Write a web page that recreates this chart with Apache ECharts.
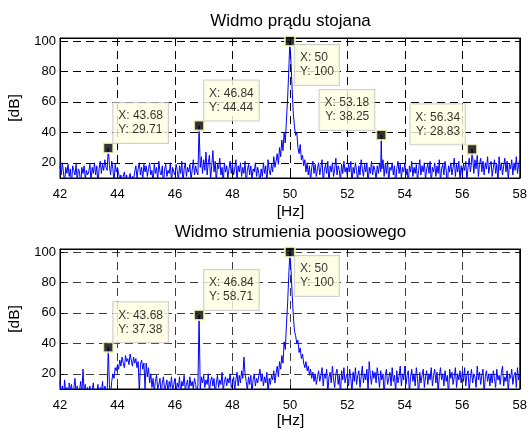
<!DOCTYPE html>
<html>
<head>
<meta charset="utf-8">
<script src="https://cdn.jsdelivr.net/npm/echarts@6/dist/echarts.min.js"></script>
<style>
  html, body { margin: 0; padding: 0; background: #fff; }
  #chart { width: 530px; height: 431px; }
</style>
</head>
<body>
<div id="chart"></div>
<script>
// Frequency grid of the spectra: 42 Hz .. 58 Hz, 0.04 Hz bins
const freqStart = 42;
const freqStep = 0.04;

// Stator current spectrum [dB], one row per 1 Hz (25 bins), last bin = 58 Hz
const statorSpectrum = [
  18,12,20,14,6,17,13,19,11,16,5,18,15,12,19,8,16,14,4,17,13,18,9,15,12,
  14,19,8,17,13,20,12,18,5,16,21,13,19,15,22,17,15,29.71,18,12,21,16,7,19,14,
  17,13,9,12,6,11,14,8,12,5,10,13,7,11,9,14,18,10,16,20,12,17,9,19,14,
  18,11,16,20,12,15,6,19,13,17,8,21,14,12,18,5,16,19,11,15,13,20,7,17,14,
  12,19,15,8,18,13,21,6,16,20,11,17,14,19,9,15,22,12,18,14,12,44.44,17,24,13,
  22,15,27,12,20,25,9,18,28,14,21,7,19,16,23,12,17,6,20,14,18,10,16,21,13,
  19,12,16,22,8,18,14,20,11,17,13,21,6,15,19,12,18,9,16,14,20,11,17,13,7,
  16,11,20,13,18,6,22,15,12,19,14,24,17,21,26,19,30,24,35,28,40,33,48,62,80,
  100,85,68,52,44,38,40,30,26,32,22,25,18,22,14,20,12,18,8,17,21,13,19,11,16,
  20,12,17,22,7,15,19,13,21,6,18,14,20,11,16,23,12,18,15,8,19,13,21,14,17,
  11,19,14,21,6,17,13,20,15,8,18,12,22,16,11,19,14,20,5,17,13,21,12,18,15,
  9,18,13,20,14,16,22,11,19,13,21,7,17,15,20,12,18,5,16,21,13,19,10,17,14,
  20,12,16,6,18,14,21,11,17,13,19,8,15,22,12,18,14,20,9,16,19,13,21,7,17,
  14,20,11,18,13,22,7,16,19,12,21,15,5,18,14,20,12,17,23,11,19,14,21,9,18,
  12,19,15,21,8,17,23,14,20,24,13,22,16,25,11,19,23,14,21,12,20,16,24,13,18,
  21,11,17,22,13,19,7,24,15,20,12,18,23,14,21,9,19,16,22,12,20,15,24,13,19,
  22
];

// Axial flux spectrum [dB], same grid
const fluxSpectrum = [
  15,6,12,3,16,8,11,4,14,9,13,5,10,17,7,12,4,9,15,6,23,8,13,5,11,
  6,12,4,9,14,3,10,7,13,5,11,8,15,4,12,9,6,37.38,12,6,15,20,17,24,22,
  26,23,29,25,31,27,24,32,28,30,26,33,29,25,31,27,30,24,28,8,26,29,23,27,10,
  27,18,24,14,20,11,17,8,15,19,10,13,17,6,14,18,9,12,16,7,15,11,18,9,13,
  17,8,14,11,18,6,15,12,19,9,13,16,7,18,12,15,10,17,13,8,12,58.71,10,18,14,
  19,11,16,13,20,7,15,18,12,17,6,14,19,11,16,13,21,8,15,18,12,17,14,20,11,
  13,18,9,16,21,12,19,14,22,17,31,20,15,9,18,13,19,7,16,20,12,17,14,19,23,
  15,20,12,18,14,21,7,17,13,19,16,22,14,20,25,18,28,23,32,27,41,36,52,66,84,
  100,88,72,58,48,45,40,42,34,37,30,33,27,24,28,22,25,19,23,17,21,15,20,13,18,
  22,15,19,24,12,20,17,23,7,18,21,14,25,16,11,20,23,13,19,6,22,16,24,14,18,
  20,12,23,17,8,21,15,24,13,19,22,11,18,25,14,20,16,23,9,28,19,13,22,17,21,
  14,24,18,11,22,16,20,6,19,23,13,17,21,12,24,15,19,8,22,14,18,25,12,20,16,
  25,13,19,22,7,18,23,15,20,12,24,17,6,21,14,19,23,11,18,22,13,20,16,24,12,
  19,23,14,21,8,18,24,16,20,12,22,15,19,5,23,17,21,13,18,24,11,20,16,22,14,
  21,15,24,12,19,22,9,17,23,14,20,18,11,25,16,21,13,19,23,6,18,22,15,20,12,
  20,14,22,17,11,23,16,19,13,21,25,12,18,15,22,8,20,17,23,13,19,21,11,24,16,
  20
];

// Marked spectral lines (data tips)
const statorTipFreq = [43.68, 46.84, 50, 53.18, 56.34];
const statorTipVal  = [29.71, 44.44, 100, 38.25, 28.83];
const statorTipSide = ['ur', 'ur', 'dr', 'ul', 'ul'];

const fluxTipFreq = [43.68, 46.84, 50];
const fluxTipVal  = [37.38, 58.71, 100];
const fluxTipSide = ['ur', 'ur', 'dr'];

// Axis ticks
const xTicks = [42, 44, 46, 48, 50, 52, 54, 56, 58];
const yTicks = [20, 40, 60, 80, 100];

const FONT = '"Liberation Sans", Arial, Helvetica, sans-serif';

// Build [freq, dB] pairs; tip lines override or are inserted between bins
function buildSpectrum(values, tipF, tipV) {
  const pts = values.map((v, i) => [+(freqStart + i * freqStep).toFixed(2), v]);
  tipF.forEach((f, k) => {
    const j = pts.findIndex(p => Math.abs(p[0] - f) < 1e-6);
    if (j >= 0) pts[j][1] = tipV[k];
    else pts.push([f, tipV[k]]);
  });
  pts.sort((a, b) => a[0] - b[0]);
  return pts;
}

// Label box anchors, relative to the marker's bounding box (10 x 10)
const tipPlacement = {
  ur: { position: [11, 1],  align: 'left',  verticalAlign: 'bottom' },
  dr: { position: [11, 10], align: 'left',  verticalAlign: 'top' },
  ul: { position: [-1, 1],  align: 'right', verticalAlign: 'bottom' }
};

function tipSeries(idx, tipF, tipV, side) {
  return {
    type: 'scatter',
    xAxisIndex: idx, yAxisIndex: idx,
    symbol: 'rect', symbolSize: 10,
    clip: false, z: 5,
    itemStyle: { color: '#000', borderColor: '#FFFFC4', borderWidth: 2 },
    label: {
      show: true,
      formatter: p => 'X: ' + p.value[0] + '\nY: ' + p.value[1],
      color: '#000', fontSize: 12, lineHeight: 14, fontFamily: FONT,
      backgroundColor: '#FFFFE1', borderColor: '#C4C4C4', borderWidth: 1,
      padding: [6, 5, 6, 5]
    },
    emphasis: { disabled: true },
    data: tipF.map((f, k) => ({ value: [f, tipV[k]], label: tipPlacement[side[k]] }))
  };
}

const grids = [
  { left: 60, top: 38, width: 461, height: 140 },
  { left: 60, top: 249, width: 461, height: 140 }
];
const gridColor = ['#000000', '#3c3c3c'];

function xAxisFor(idx, mirror) {
  return {
    type: 'value', gridIndex: idx, min: 42, max: 58, interval: 2,
    position: mirror ? 'top' : 'bottom',
    axisLine: { show: true, lineStyle: { color: '#000', width: 1 } },
    axisTick: { show: true, inside: true, length: 4, lineStyle: { color: '#000' } },
    axisLabel: { show: !mirror, color: '#000', fontSize: 13, fontFamily: FONT, margin: 10 },
    splitLine: { show: !mirror, lineStyle: { color: gridColor[idx], type: [8, 5], width: 1 } }
  };
}
function yAxisFor(idx, mirror) {
  return {
    type: 'value', gridIndex: idx, min: 10, max: 102,
    position: mirror ? 'right' : 'left',
    axisLine: { show: true, lineStyle: { color: '#000', width: 1 } },
    axisTick: { show: true, inside: true, length: 4, customValues: yTicks, lineStyle: { color: '#000' } },
    axisLabel: { show: !mirror, customValues: yTicks, color: '#000', fontSize: 13, fontFamily: FONT, margin: 4 },
    splitLine: { show: !mirror, lineStyle: { color: gridColor[idx], type: [8, 5], width: 1 } }
  };
}

function textEl(text, x, y, size, rot) {
  return {
    type: 'text', x: x, y: y, rotation: rot || 0, silent: true,
    style: { text: text, fontSize: size, fontFamily: FONT, fill: '#000', align: 'center', verticalAlign: 'middle' }
  };
}

const chart = echarts.init(document.getElementById('chart'), null, { renderer: 'canvas' });
chart.setOption({
  animation: false,
  backgroundColor: '#fff',
  textStyle: { fontFamily: FONT },
  grid: grids.map(g => Object.assign({ show: true, borderColor: '#000', borderWidth: 1, backgroundColor: '#fff' }, g)),
  xAxis: [xAxisFor(0, false), xAxisFor(1, false), xAxisFor(0, true), xAxisFor(1, true)],
  yAxis: [yAxisFor(0, false), yAxisFor(1, false), yAxisFor(0, true), yAxisFor(1, true)],
  graphic: [
    textEl('Widmo prądu stojana', 290.5, 21, 17),
    textEl('[dB]', 15, 108, 15.5, Math.PI / 2),
    textEl('[Hz]', 290.5, 212, 15.5),
    textEl('Widmo strumienia poosiowego', 290.5, 232, 17),
    textEl('[dB]', 15, 319, 15.5, Math.PI / 2),
    textEl('[Hz]', 290.5, 421, 15.5)
  ],
  series: [
    {
      type: 'line', xAxisIndex: 0, yAxisIndex: 0, z: 3,
      showSymbol: false, clip: true,
      lineStyle: { color: '#0000FF', width: 1 },
      emphasis: { disabled: true },
      data: buildSpectrum(statorSpectrum, statorTipFreq, statorTipVal)
    },
    {
      type: 'line', xAxisIndex: 1, yAxisIndex: 1, z: 3,
      showSymbol: false, clip: true,
      lineStyle: { color: '#0000FF', width: 1 },
      emphasis: { disabled: true },
      data: buildSpectrum(fluxSpectrum, fluxTipFreq, fluxTipVal)
    },
    tipSeries(0, statorTipFreq, statorTipVal, statorTipSide),
    tipSeries(1, fluxTipFreq, fluxTipVal, fluxTipSide)
  ]
});
</script>
</body>
</html>
